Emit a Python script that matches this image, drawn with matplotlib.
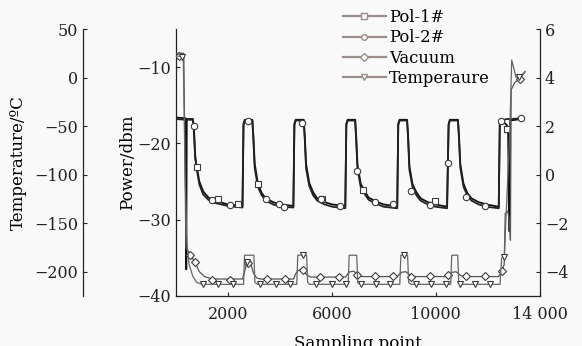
import numpy as np
import matplotlib
matplotlib.use("Agg")
import matplotlib.pyplot as plt
from matplotlib.lines import Line2D

plt.rcParams['font.family'] = ['DejaVu Serif']

# Pol-1# / Pol-2# power (dbm), shared sampling points
pol_x = [0, 370, 395, 415, 650,
         690, 740, 800, 900, 1050, 1250, 1500, 2000, 2560,
         2600, 2650, 2940,
         2980, 3030, 3154, 3300, 3460, 3740, 4040, 4520,
         4560, 4610, 4920,
         4960, 5010, 5134, 5280, 5440, 5720, 6020, 6520,
         6560, 6610, 6900,
         6940, 6990, 7114, 7260, 7420, 7700, 8000, 8520,
         8560, 8610, 8900,
         8940, 8990, 9114, 9260, 9420, 9700, 10000, 10440,
         10500, 10550, 10860,
         10900, 10950, 11074, 11220, 11380, 11660, 11960, 12430,
         12470, 12520, 12740, 12790, 12830, 12870, 13300]
pol1_y = [-16.6, -16.7, -36.5, -16.8, -16.8,
          -18.5, -22.0, -23.1, -25.0, -26.3, -27.1, -27.5, -28.0, -28.2,
          -17.4, -16.9, -16.9,
          -19.0, -22.6, -25.3, -26.5, -27.2, -27.7, -28.0, -28.2,
          -17.4, -16.9, -16.9,
          -19.0, -22.7, -25.2, -26.4, -27.2, -27.7, -28.0, -28.2,
          -17.4, -16.9, -16.9,
          -19.1, -22.8, -25.3, -26.2, -27.1, -27.6, -28.0, -28.3,
          -17.4, -16.9, -16.9,
          -19.0, -23.0, -25.4, -26.4, -27.2, -27.7, -28.0, -28.3,
          -17.4, -16.9, -16.9,
          -19.0, -22.7, -25.3, -26.5, -27.2, -27.7, -28.0, -28.3,
          -17.4, -16.9, -17.6, -18.3, -31.5, -17.0, -16.8]
pol2_y = [-16.8, -16.9, -16.9, -16.9, -16.9,
          -17.8, -21.5, -23.4, -25.4, -26.7, -27.4, -27.8, -28.2, -28.4,
          -17.6, -17.0, -17.0,
          -19.5, -23.2, -25.7, -26.8, -27.5, -28.0, -28.3, -28.4,
          -17.6, -17.0, -17.0,
          -19.5, -23.3, -25.6, -26.8, -27.5, -28.0, -28.3, -28.5,
          -17.6, -17.0, -17.0,
          -19.6, -23.3, -25.7, -26.6, -27.4, -27.9, -28.3, -28.5,
          -17.6, -17.0, -17.0,
          -19.5, -23.5, -25.8, -26.8, -27.5, -28.0, -28.3, -28.5,
          -17.6, -17.0, -17.0,
          -19.5, -23.2, -25.7, -26.8, -27.5, -28.0, -28.3, -28.5,
          -17.6, -17.0, -16.8, -16.8, -16.8, -16.8, -16.7]

pol1_mx = [796, 1604, 2385, 3154, 5604, 7204, 9961, 12757]
pol1_my = [-23.1, -27.3, -28.0, -25.3, -27.3, -26.1, -27.6, -18.1]
pol2_mx = [692, 1373, 2077, 2770, 3460, 3960, 4154, 4846, 5577, 6307, 6988,
           7654, 8357, 9065, 9769, 10473, 11180, 11884, 12526, 13295]
pol2_my = [-17.7, -27.4, -28.1, -17.1, -27.3, -27.9, -28.3, -17.3, -27.3, -28.2, -23.6,
           -27.7, -28.0, -26.2, -28.1, -22.5, -27.0, -28.2, -17.0, -16.7]

# Vacuum (right axis)
vac_x = [0, 300, 380, 540, 730, 900, 1100, 1400, 2560,
         2620, 2700, 2800, 2900, 2980, 3100, 3250, 4530,
         4600, 4700, 4850, 4950, 5050, 5200, 6530,
         6600, 6700, 6850, 6950, 7050, 7200, 8530,
         8600, 8700, 8850, 8950, 9050, 9200, 10440,
         10520, 10620, 10780, 10880, 10980, 11100, 12420,
         12550, 12640, 12680, 12780, 12850, 12880, 12910, 13050, 13250, 13450]
vac_y = [5.0, 5.0, -3.0, -3.3, -3.6, -4.0, -4.2, -4.3, -4.3,
         -4.1, -3.75, -3.62, -3.75, -4.05, -4.25, -4.3, -4.3,
         -4.1, -3.95, -3.9, -4.0, -4.15, -4.22, -4.22,
         -4.1, -4.0, -3.98, -4.08, -4.18, -4.2, -4.2,
         -4.1, -4.02, -4.0, -4.08, -4.17, -4.2, -4.2,
         -4.1, -4.03, -4.0, -4.08, -4.17, -4.2, -4.2,
         -3.99, -3.7, -1.6, -1.5, -2.0, -2.7, 3.5, 3.8, 3.95, 4.25]
vac_mx = [120, 538, 731, 1373, 2077, 2781, 3488, 4192, 4873, 5565, 6269, 6961,
          7654, 8357, 9065, 9769, 10473, 11180, 11884, 12550, 13230]
vac_my = [4.9, -3.3, -3.58, -4.33, -4.33, -3.64, -4.3, -4.3, -3.92, -4.22, -4.22, -4.15,
          -4.19, -4.19, -4.22, -4.19, -4.15, -4.19, -4.19, -3.99, 3.94]

# Temperature (outer left axis)
temp_x = [0, 280, 350, 420, 500, 650, 800, 1000, 2600,
          2640, 3000, 3040, 3150, 4650,
          4690, 5030, 5070, 5150, 6630,
          6670, 6960, 7000, 7080, 8620,
          8660, 8920, 8960, 9040, 10580,
          10620, 10850, 10890, 10970, 12480,
          12540, 12650, 12700, 12850, 12930, 13100, 13250, 13450]
temp_y = [22, 22, -100, -170, -192, -205, -211, -213, -213,
          -183, -183, -211, -213, -213,
          -183, -183, -211, -213, -213,
          -183, -183, -211, -213, -213,
          -183, -183, -211, -213, -213,
          -183, -183, -211, -213, -213,
          -186, -183, -150, -60, 18, 0, 1, 6]
temp_mx = [220, 1050, 1627, 2181, 2719, 3230, 3846, 4384, 4896, 5411, 6027, 6565,
           7142, 7719, 8230, 8769, 9257, 9834, 10411, 10922, 11499, 12076, 12615, 13200]
temp_my = [21, -213, -213, -213, -190, -213, -213, -213, -183, -213, -213, -213,
           -213, -213, -213, -183, -213, -213, -213, -213, -213, -213, -185, 1]

fig = plt.figure(figsize=(5.82, 3.46), dpi=100, facecolor='#f9f9f9')
ax = fig.add_axes([176 / 582, 50 / 346, 363.5 / 582, 267 / 346])
ax.set_facecolor('none')
ax_v = ax.twinx()
ax_t = ax.twinx()

mk = dict(ls='none', mfc='white', mec='#3a3a3a', ms=4.6, mew=0.8)

ax.plot(pol_x, pol1_y, color='#111111', lw=1.3)
ax.plot(pol_x, pol2_y, color='#222222', lw=1.3)
ax.plot(pol1_mx, pol1_my, marker='s', **mk)
ax.plot(pol2_mx, pol2_my, marker='o', **mk)

ax_v.plot(vac_x, vac_y, color='#555555', lw=0.9)
ax_v.plot(vac_mx, vac_my, marker='D', **dict(mk, ms=4.2))

ax_t.plot(temp_x, temp_y, color='#666666', lw=0.9)
ax_t.plot(temp_mx, temp_my, marker='v', **mk)

ax.set_xlim(0, 14000)
ax.set_ylim(-40, -5)
ax_v.set_ylim(-5, 6)
ax_t.set_ylim(-225, 50)

ax.set_xticks([2000, 6000, 10000, 14000])
ax.set_xticklabels(['2000', '6000', '10000', '14 000'])
ax.set_yticks([-40, -30, -20, -10])
ax_v.set_yticks([-4, -2, 0, 2, 4, 6])
ax_t.set_yticks([-200, -150, -100, -50, 0, 50])

for a in (ax, ax_v, ax_t):
    for s in a.spines.values():
        s.set_visible(False)
        s.set_linewidth(0.9)
        s.set_color('#222222')
ax.spines['left'].set_visible(True)
ax.spines['bottom'].set_visible(True)
ax_v.spines['right'].set_visible(True)
ax_t.spines['left'].set_visible(True)
ax_t.spines['left'].set_position(('axes', (83 - 176) / 363.5))
ax_t.yaxis.set_ticks_position('left')

tp = dict(direction='in', length=3, width=0.8, labelsize=11.5, colors='#222222')
ax.tick_params(axis='y', pad=3.5, **tp)
ax.tick_params(axis='x', pad=7, **tp)
ax_v.tick_params(axis='y', pad=4, **tp)
ax_t.tick_params(axis='y', pad=3.5, **tp)

fs = 12
fig.text(18 / 582, 1 - 163 / 346, 'Temperature/ºC', rotation=90, ha='center', va='center', fontsize=fs)
fig.text(128 / 582, 1 - 162 / 346, 'Power/dbm', rotation=90, ha='center', va='center', fontsize=fs)
fig.text(586 / 582, 1 - 157 / 346, 'Vacuum', rotation=270, ha='center', va='center', fontsize=fs)
fig.text(357.7 / 582, 1 - 343 / 346, 'Sampling point', ha='center', va='center', fontsize=fs)

lc = '#9b8e8a'
names = ['Pol-1#', 'Pol-2#', 'Vacuum', 'Temperaure']
marks = ['s', 'o', 'D', 'v']
handles = [Line2D([], [], color=lc, lw=1.6, marker=m, ms=4, mfc='white', mec=lc, mew=1.0)
           for m in marks]
fig.legend(handles, names, loc='upper left', bbox_to_anchor=(343 / 582, 1 - 9 / 346),
           frameon=False, borderpad=0, borderaxespad=0, handlelength=2.6,
           handletextpad=0.2, labelspacing=0.2, fontsize=11.8)

fig.savefig('out.png', dpi=100, facecolor=fig.get_facecolor())
